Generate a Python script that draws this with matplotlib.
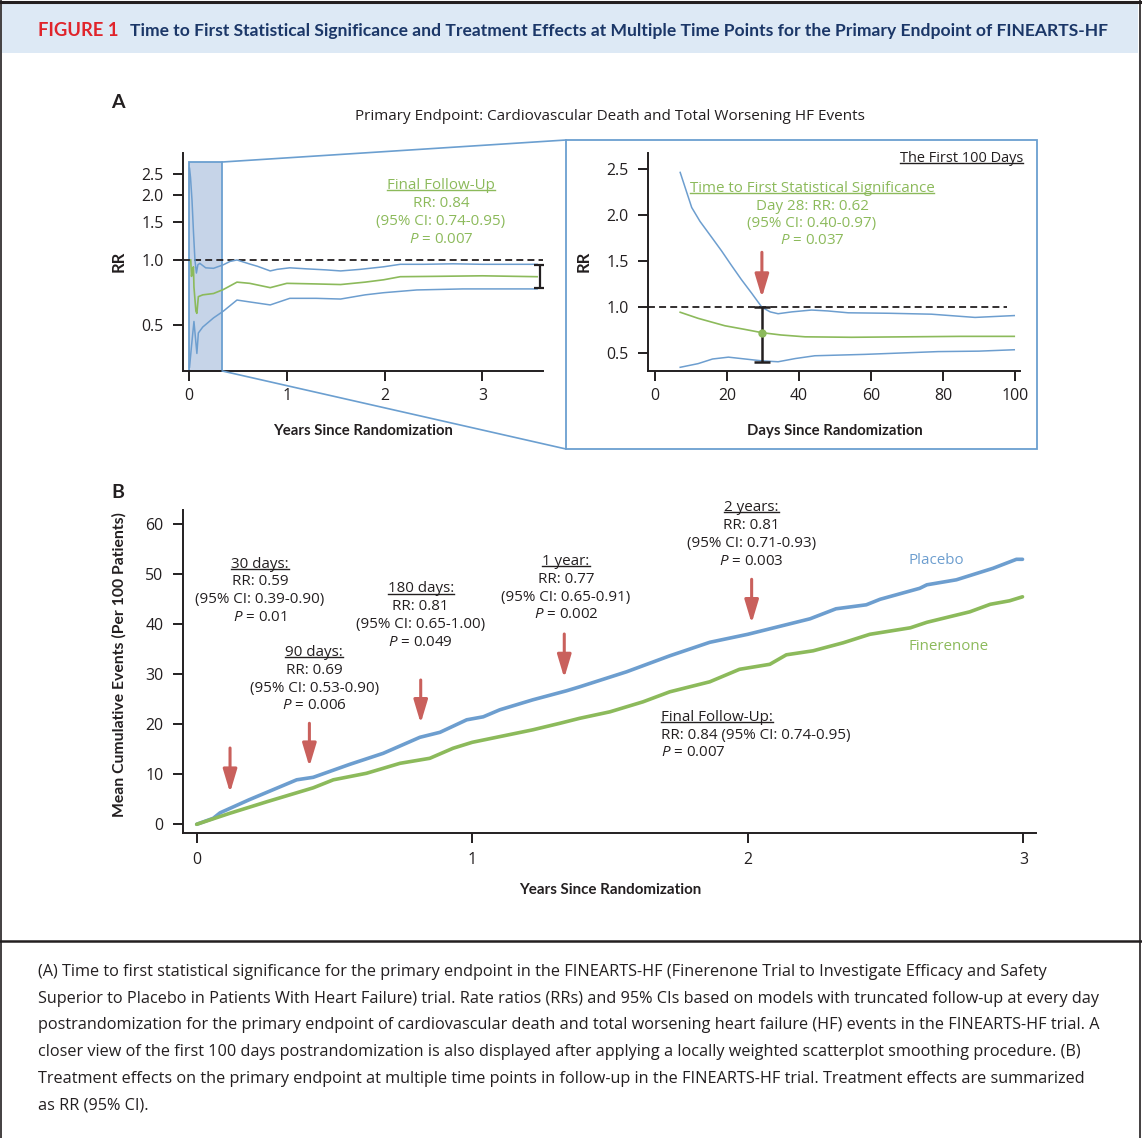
import matplotlib
matplotlib.use('Agg')
import matplotlib.pyplot as plt
from matplotlib import font_manager
from matplotlib.patches import Rectangle
from matplotlib.lines import Line2D
from matplotlib.ticker import NullLocator
from matplotlib.transforms import IdentityTransform

# ---------------- data ----------------
# Panel A, left: rate ratio with truncated follow-up (years)
a_yr_hi = [0.005, 0.015, 0.03, 0.045, 0.06, 0.075, 0.09, 0.11, 0.17, 0.25, 0.35, 0.42, 0.49,
           0.62, 0.7, 0.83, 0.9, 1.03, 1.2, 1.4, 1.55, 1.75, 1.99, 2.16, 2.4, 2.7, 3.0, 3.3, 3.56]
a_rr_hi = [2.65, 2.4, 1.89, 1.35, 1.0, 0.87, 0.95, 0.965, 0.92, 0.915, 0.95, 0.985, 1.0,
           0.958, 0.935, 0.89, 0.905, 0.92, 0.91, 0.9, 0.89, 0.905, 0.93, 0.955, 0.955, 0.96, 0.955, 0.955, 0.955]
a_yr_rr = [0.017, 0.025, 0.035, 0.045, 0.05, 0.07, 0.08, 0.095, 0.14, 0.25, 0.35, 0.49, 0.62,
           0.83, 1.0, 1.3, 1.55, 1.8, 1.99, 2.16, 2.5, 3.0, 3.56]
a_rr_rr = [1.0, 0.84, 0.9, 0.93, 0.75, 0.58, 0.567, 0.677, 0.69, 0.70, 0.73, 0.79, 0.78,
           0.745, 0.78, 0.775, 0.77, 0.79, 0.81, 0.837, 0.84, 0.845, 0.837]
a_yr_lo = [0.005, 0.025, 0.05, 0.08, 0.095, 0.14, 0.25, 0.35, 0.49, 0.62, 0.83, 1.03, 1.3,
           1.55, 1.8, 1.99, 2.33, 2.8, 3.56]
a_rr_lo = [0.32, 0.40, 0.52, 0.37, 0.46, 0.49, 0.54, 0.58, 0.653, 0.64, 0.62, 0.665, 0.665,
           0.66, 0.69, 0.706, 0.727, 0.735, 0.735]
final_x, final_rr, final_lo, final_hi = 3.59, 0.84, 0.74, 0.95

# Panel A, right: first 100 days (smoothed)
d_day_hi = [7, 8.6, 10.2, 12.5, 15.7, 18.5, 21.3, 24, 26.9, 29.7, 32, 34.2, 38, 43.5, 48, 53.7, 65, 76.8, 88.9, 99.8]
d_rr_hi = [2.46, 2.27, 2.08, 1.93, 1.76, 1.61, 1.45, 1.3, 1.15, 1.0, 0.95, 0.93, 0.95, 0.97, 0.96, 0.94, 0.935, 0.925, 0.89, 0.91]
d_day_rr = [7, 12, 19.4, 25, 29.7, 35, 41.7, 54.6, 70, 85, 99.8]
d_rr_rr = [0.946, 0.88, 0.80, 0.76, 0.725, 0.70, 0.68, 0.675, 0.68, 0.685, 0.685]
d_day_lo = [7, 12, 16, 20.4, 25, 29.7, 34.2, 39, 44.4, 58.3, 78.6, 90, 99.8]
d_rr_lo = [0.35, 0.39, 0.44, 0.46, 0.44, 0.42, 0.41, 0.445, 0.475, 0.49, 0.52, 0.525, 0.54]
sig_day, sig_rr, sig_lo, sig_hi = 29.7, 0.725, 0.41, 1.0

# Panel B: mean cumulative events per 100 patients
pl_yr = [0, 0.06, 0.085, 0.19, 0.363, 0.423, 0.556, 0.677, 0.81, 0.883, 0.98, 1.04, 1.10, 1.22,
         1.342, 1.39, 1.56, 1.717, 1.862, 2.0, 2.226, 2.32, 2.43, 2.48, 2.624, 2.65, 2.757, 2.89, 2.975, 2.997]
pl_ev = [0, 1.2, 2.3, 4.9, 8.9, 9.4, 12, 14.2, 17.4, 18.4, 20.9, 21.5, 22.9, 24.9,
         26.7, 27.5, 30.5, 33.7, 36.4, 38, 41.1, 43.1, 43.9, 45, 47.2, 47.9, 48.9, 51.2, 53, 53]
fi_yr = [0, 0.12, 0.254, 0.423, 0.496, 0.616, 0.738, 0.846, 0.93, 1.0, 1.22, 1.318, 1.39, 1.5,
         1.62, 1.717, 1.862, 1.97, 2.08, 2.14, 2.237, 2.346, 2.443, 2.59, 2.65, 2.806, 2.88, 2.95, 2.997]
fi_ev = [0, 2.2, 4.5, 7.3, 8.9, 10.2, 12.2, 13.2, 15.2, 16.4, 18.9, 20.2, 21.2, 22.5,
         24.5, 26.5, 28.5, 31, 32, 33.9, 34.7, 36.3, 38, 39.3, 40.4, 42.5, 44, 44.7, 45.5]

tp_names = ['30 days:', '90 days:', '180 days:', '1 year:', '2 years:']
tp_rr = ['0.59', '0.69', '0.81', '0.77', '0.81']
tp_ci = ['0.39-0.90', '0.53-0.90', '0.65-1.00', '0.65-0.91', '0.71-0.93']
tp_p = ['0.01', '0.006', '0.049', '0.002', '0.003']
arrow_yr = [0.121, 0.409, 0.813, 1.334, 2.014]
arrow_top = [15.26, 20.2, 28.86, 38.06, 49.0]
arrow_bot = [6.32, 11.52, 20.2, 29.26, 40.2]

caption = [
    "(A) Time to first statistical significance for the primary endpoint in the FINEARTS-HF (Finerenone Trial to Investigate Efficacy and Safety",
    "Superior to Placebo in Patients With Heart Failure) trial. Rate ratios (RRs) and 95% CIs based on models with truncated follow-up at every day",
    "postrandomization for the primary endpoint of cardiovascular death and total worsening heart failure (HF) events in the FINEARTS-HF trial. A",
    "closer view of the first 100 days postrandomization is also displayed after applying a locally weighted scatterplot smoothing procedure. (B)",
    "Treatment effects on the primary endpoint at multiple time points in follow-up in the FINEARTS-HF trial. Treatment effects are summarized",
    "as RR (95% CI).",
]
caption_ends = [1075, 1090, 1098, 1082, 1079, None]

# ---------------- style ----------------
W, H = 1142, 1138
avail = {f.name for f in font_manager.fontManager.ttflist}
def pick(*names):
    for n in names:
        if n in avail:
            return n
    return 'DejaVu Sans'
MAIN = pick('Open Sans', 'Noto Sans', 'DejaVu Sans')
BOLDF = pick('Lato', 'Roboto', 'Open Sans', 'DejaVu Sans')

plt.rcParams['font.family'] = [MAIN, 'DejaVu Sans']
plt.rcParams['mathtext.fontset'] = 'custom'
plt.rcParams['mathtext.it'] = MAIN + ':italic'
plt.rcParams['mathtext.rm'] = MAIN
plt.rcParams['lines.scale_dashes'] = False

INK = '#231f20'
BLUE = '#6d9ecf'
GREEN = '#8cba5b'
RED = '#c9605c'
EDGE = '#6b9fd0'
FS = 10.9

fig = plt.figure(figsize=(W / 100, H / 100), dpi=100)
renderer = fig.canvas.get_renderer()

def FX(x): return x / W
def FY(y): return 1 - y / H
def rect(x0, y0, x1, y1): return [x0 / W, 1 - y1 / H, (x1 - x0) / W, (y1 - y0) / H]

def ftext(x, y, s, **kw):
    kw.setdefault('ha', 'center')
    kw.setdefault('va', 'center')
    kw.setdefault('color', INK)
    kw.setdefault('fontsize', FS)
    return fig.text(FX(x), FY(y), s, **kw)

def btext(x, y, s, **kw):
    kw.setdefault('fontweight', 'bold')
    kw.setdefault('family', [BOLDF, 'DejaVu Sans'])
    return ftext(x, y, s, **kw)

def fit(t, target, vertical=False):
    for _ in range(2):
        bb = t.get_window_extent(renderer)
        cur = bb.height if vertical else bb.width
        t.set_fontsize(t.get_fontsize() * target / cur)
    return t

underlines = []
def uline(t, color):
    underlines.append((t, color))
    return t

def fline(x0, y0, x1, y1, **kw):
    fig.add_artist(Line2D([FX(x0), FX(x1)], [FY(y0), FY(y1)], transform=fig.transFigure, **kw))

def style(ax):
    ax.set_facecolor('none')
    for s in ['top', 'right']:
        ax.spines[s].set_visible(False)
    for s in ['left', 'bottom']:
        ax.spines[s].set_linewidth(1.4)
        ax.spines[s].set_color(INK)
    ax.tick_params(axis='both', which='major', length=7, width=1.4, color=INK,
                   labelsize=11.4, labelcolor=INK)
    ax.tick_params(axis='y', pad=7)
    ax.tick_params(axis='x', pad=5)

def red_arrow(ax, x, ytop, ybot):
    ax.annotate('', xy=(x, ybot), xytext=(x, ytop),
                arrowprops=dict(arrowstyle='-|>,head_length=1.4,head_width=0.42',
                                color=RED, lw=2.2, shrinkA=0, shrinkB=0, mutation_scale=10),
                annotation_clip=False)

# ---------------- frame & header ----------------
fig.add_artist(Rectangle((FX(2), FY(53)), FX(1136), (53 - 3) / H, transform=fig.transFigure,
                         facecolor='#dde9f5', edgecolor='none', zorder=0))
fline(0, 1.5, W, 1.5, color=INK, lw=2.2)
fline(1, 0, 1, H, color=INK, lw=1.2)
fline(1139.5, 0, 1139.5, H, color=INK, lw=1.2)
fline(0, 941, W, 941, color=INK, lw=1.8)

fit(btext(38, 31, 'FIGURE 1', ha='left', color='#e0242b', fontsize=11), 80)
fit(btext(130, 31, 'Time to First Statistical Significance and Treatment Effects at Multiple Time Points for the Primary Endpoint of FINEARTS-HF',
          ha='left', color='#1b3768', fontsize=11), 978)

cap_texts = []
sizes = []
for line, xe in zip(caption, caption_ends):
    t = ftext(38, 0, line, ha='left', fontsize=11)
    cap_texts.append(t)
    if xe is not None:
        fit(t, xe - 38)
        sizes.append(t.get_fontsize())
cap_fs = sum(sizes) / len(sizes)
for t, y in zip(cap_texts, [972, 998.7, 1025.4, 1052, 1078.8, 1105.5]):
    t.set_fontsize(cap_fs)
    t.set_y(FY(y))

# ---------------- Panel A ----------------
btext(118, 102, 'A', fontsize=14)
fit(ftext(610, 117, 'Primary Endpoint: Cardiovascular Death and Total Worsening HF Events'), 508)

axL = fig.add_axes(rect(183, 153, 543, 371))
style(axL)
axL.set_yscale('log')
axL.set_xlim(-0.062, 3.62)
axL.set_ylim(0.307, 3.12)
axL.set_yticks([0.5, 1.0, 1.5, 2.0, 2.5])
axL.set_yticklabels(['0.5', '1.0', '1.5', '2.0', '2.5'])
axL.yaxis.set_minor_locator(NullLocator())
axL.set_xticks([0, 1, 2, 3])
axL.add_patch(Rectangle((0, 0.307), 0.34, 2.837 - 0.307, facecolor='#c6d4e8', edgecolor=EDGE,
                        lw=1.3, zorder=0.5, clip_on=False))
axL.plot([-0.062, 3.62], [1, 1], color=INK, lw=1.3, dashes=(5, 3), zorder=2)
axL.plot(a_yr_hi, a_rr_hi, color=BLUE, lw=1.1, zorder=3)
axL.plot(a_yr_lo, a_rr_lo, color=BLUE, lw=1.1, zorder=3)
axL.plot(a_yr_rr, a_rr_rr, color=GREEN, lw=1.2, zorder=3)
axL.errorbar([final_x], [final_rr], yerr=[[final_rr - final_lo], [final_hi - final_rr]], fmt='none',
             ecolor=INK, elinewidth=1.6, capsize=4, capthick=1.6, zorder=4)

uline(ftext(441, 185.7, 'Final Follow-Up', color=GREEN), GREEN)
ftext(441, 203.3, 'RR: 0.84', color=GREEN)
ftext(441, 221.7, '(95% CI: 0.74-0.95)', color=GREEN)
ftext(441, 239.3, '$P$ = 0.007', color=GREEN)

btext(119, 261, 'RR', rotation=90, fontsize=12)
fit(btext(363, 431, 'Years Since Randomization', fontsize=11), 180)

# zoom connectors and inset box
fline(222.3, 162, 566, 140, color=EDGE, lw=1.2)
fline(222.3, 371, 566, 449, color=EDGE, lw=1.2)
fig.add_artist(Rectangle((FX(566), FY(449)), (1037 - 566) / W, (449 - 140) / H, transform=fig.transFigure,
                         facecolor='none', edgecolor=EDGE, lw=1.3))

axR = fig.add_axes(rect(648, 153, 1020, 371))
style(axR)
axR.set_xlim(-1.94, 101.4)
axR.set_ylim(0.31, 2.67)
axR.set_yticks([0.5, 1.0, 1.5, 2.0, 2.5])
axR.set_yticklabels(['0.5', '1.0', '1.5', '2.0', '2.5'])
axR.set_xticks([0, 20, 40, 60, 80, 100])
axR.plot([-1.94, 97.8], [1, 1], color=INK, lw=1.3, dashes=(5, 3), zorder=2)
axR.plot(d_day_hi, d_rr_hi, color=BLUE, lw=1.1, zorder=3)
axR.plot(d_day_lo, d_rr_lo, color=BLUE, lw=1.1, zorder=3)
axR.plot(d_day_rr, d_rr_rr, color=GREEN, lw=1.2, zorder=3)
axR.errorbar([sig_day], [sig_rr], yerr=[[sig_rr - sig_lo], [sig_hi - sig_rr]], fmt='none',
             ecolor=INK, elinewidth=1.8, capsize=5.5, capthick=1.8, zorder=4)
axR.plot([sig_day], [sig_rr], 'o', color=GREEN, ms=5, zorder=5)
red_arrow(axR, sig_day, 1.595, 1.105)

uline(fit(ftext(1023, 158, 'The First 100 Days', ha='right'), 123), INK)
uline(ftext(812, 188, 'Time to First Statistical Significance', color=GREEN), GREEN)
ftext(812, 206, 'Day 28: RR: 0.62', color=GREEN)
ftext(812, 223, '(95% CI: 0.40-0.97)', color=GREEN)
ftext(812, 241, '$P$ = 0.037', color=GREEN)

btext(584, 261, 'RR', rotation=90, fontsize=12)
fit(btext(834.5, 431, 'Days Since Randomization', fontsize=11), 176)

# ---------------- Panel B ----------------
btext(118, 493, 'B', fontsize=14)
axB = fig.add_axes(rect(183, 510, 1036, 833))
style(axB)
axB.tick_params(axis='x', pad=7)
axB.set_xlim(-0.0497, 3.046)
axB.set_ylim(-1.74, 62.86)
axB.set_yticks([0, 10, 20, 30, 40, 50, 60])
axB.set_xticks([0, 1, 2, 3])
axB.plot(pl_yr, pl_ev, color=BLUE, lw=2.6, solid_capstyle='round', zorder=3)
axB.plot(fi_yr, fi_ev, color=GREEN, lw=2.6, solid_capstyle='round', zorder=3)
for x, yt, yb in zip(arrow_yr, arrow_top, arrow_bot):
    red_arrow(axB, x, yt, yb)

block_pos = [(260, 564), (314.3, 652.3), (420.7, 589), (566, 561.7), (751.7, 507.7)]
for (cx, cy), nm, rr, ci, p in zip(block_pos, tp_names, tp_rr, tp_ci, tp_p):
    uline(ftext(cx, cy, nm), INK)
    ftext(cx, cy + 17.8, 'RR: ' + rr)
    ftext(cx, cy + 35.8, '(95% CI: ' + ci + ')')
    ftext(cx, cy + 53.3, '$P$ = ' + p)

ftext(908, 560.7, 'Placebo', ha='left', color=BLUE)
ftext(908, 646.7, 'Finerenone', ha='left', color=GREEN)
uline(ftext(660.7, 717.3, 'Final Follow-Up:', ha='left'), INK)
ftext(660.7, 735, 'RR: 0.84 (95% CI: 0.74-0.95)', ha='left')
ftext(660.7, 752.7, '$P$ = 0.007', ha='left')

fit(btext(119, 665, 'Mean Cumulative Events (Per 100 Patients)', rotation=90, fontsize=11), 304, vertical=True)
fit(btext(610, 890, 'Years Since Randomization', fontsize=11), 182)

# ---------------- underlines ----------------
for t, c in underlines:
    bb = t.get_window_extent(renderer)
    _, _, descent = t._get_layout(renderer)
    base = bb.y0 + descent
    yl = base - 0.085 * t.get_fontsize() * 100 / 72
    fig.add_artist(Line2D([bb.x0, bb.x1], [yl, yl], transform=IdentityTransform(), color=c, lw=1.0))

fig.savefig('out.png', dpi=100)
